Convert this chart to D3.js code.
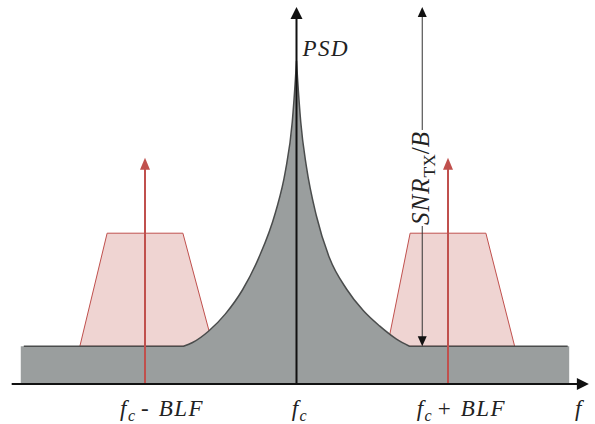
<!DOCTYPE html>
<html>
<head>
<meta charset="utf-8">
<script src="https://cdn.jsdelivr.net/npm/d3@7"></script>
<style>
  body { margin: 0; background: #fff; }
  svg { display: block; }
  text { font-family: "Liberation Serif", "DejaVu Serif", "Noto Serif", serif; }
</style>
</head>
<body>
<svg id="chart" width="595" height="424"></svg>
<script>
// frequency in units of BLF around the carrier fc, level in arbitrary PSD units
const axisFreq = [-1.88, 1.93];
const axisLevel = [0, 10];

const noiseFreq = [-1.82, 1.80];
const noiseEdge = [-1.80, 1.79];
const noiseFloor = 1;

const psdLeftFreq = [-0.746, -0.686, -0.581, -0.469, -0.356, -0.25, -0.139, -0.073, -0.028, -0.007, 0];
const psdLeftLevel = [1, 1.1, 1.4, 1.86, 2.5, 3.34, 4.55, 5.65, 6.95, 8.1, 8.57];
const psdRightFreq = [0, 0.007, 0.028, 0.066, 0.132, 0.218, 0.33, 0.442, 0.548, 0.66, 0.746];
const psdRightLevel = [8.57, 8.1, 6.95, 5.75, 4.45, 3.34, 2.52, 1.94, 1.54, 1.19, 1];

const bandBottom = [[-1.43, -0.55], [0.60, 1.44]];
const bandTop = [[-1.25, -0.75], [0.75, 1.25]];
const bandLevel = 4;

const toneFreq = [-1, 1];
const toneLevel = 6;

const snrFreq = 0.83;
const snrLevel = [1, 10];

// where each frequency label starts
const tickFreq = [-1.165, -0.032, 0.793, 1.838];
const tickText = [
  [["f", "it"], ["c", "sub"], ["-", "op"], ["BLF", "it"]],
  [["f", "it"], ["c", "sub"]],
  [["f", "it"], ["c", "sub"], ["+", "op"], ["BLF", "it"]],
  [["f", "it"]]
];

const cGrey = "#9a9e9e";
const cEdge = "#4a4c4c";
const cRed = "#c0504d";
const cPink = "#efd4d2";
const cInk = "#111";

let canvas = d3.select("#chart");

let x = d3.scaleLinear().domain([-2, 2]).range([296.5 - 303, 296.5 + 303]);
let y = d3.scaleLinear().domain([0, 10]).range([384, 7]);

function arrowHead(g, tx, ty, dir, len, half, color) {
    // dir: "up", "down", "right"
    let pts;
    if (dir == "up") pts = [[tx, ty], [tx - half, ty + len], [tx + half, ty + len]];
    else if (dir == "down") pts = [[tx, ty], [tx - half, ty - len], [tx + half, ty - len]];
    else pts = [[tx, ty], [tx - len, ty - half], [tx - len, ty + half]];
    g.append("path")
        .attr("d", "M" + pts.map(p => p.join(",")).join("L") + "Z")
        .attr("fill", color);
}

function richText(t, parts, size, spacing) {
    let shifted = 0;
    parts.forEach(p => {
        let s = t.append("tspan").text(p[0]);
        if (shifted) { s.attr("dy", -shifted); shifted = 0; }
        if (p[1] == "it") s.style("font-style", "italic").style("letter-spacing", spacing + "px");
        if (p[1] == "op") s.attr("dx", 6).style("letter-spacing", "10px");
        if (p[1] == "sub" || p[1] == "up") {
            shifted = size * 0.22;
            s.style("font-size", (size * 0.7) + "px").attr("dy", shifted);
            if (p[1] == "sub") s.style("font-style", "italic");
        }
    });
}

// sidebands
bandBottom.forEach((b, i) => {
    let pts = [[b[0], noiseFloor], [bandTop[i][0], bandLevel], [bandTop[i][1], bandLevel], [b[1], noiseFloor]];
    canvas.append("path")
        .attr("d", d3.line().x(d => x(d[0])).y(d => y(d[1]))(pts) + "Z")
        .attr("fill", cPink)
        .attr("stroke", cRed)
        .attr("stroke-width", 1);
});

// noise + carrier PSD
let half = d3.line().x(d => x(d[0])).y(d => y(d[1])).curve(d3.curveMonotoneX);
let leftPath = half(psdLeftFreq.map((f, i) => [f, psdLeftLevel[i]])).replace(/^M/, "L");
let rightPath = half(psdRightFreq.map((f, i) => [f, psdRightLevel[i]])).replace(/^M/, "L");

canvas.append("path")
    .attr("d", "M" + x(noiseFreq[0]) + "," + y(0) +
        "L" + x(noiseFreq[0]) + "," + y(noiseFloor) +
        leftPath + rightPath +
        "L" + x(noiseFreq[1]) + "," + y(noiseFloor) +
        "L" + x(noiseFreq[1]) + "," + y(0) + "Z")
    .attr("fill", cGrey);

canvas.append("path")
    .attr("d", "M" + x(noiseEdge[0]) + "," + y(noiseFloor) +
        leftPath + rightPath +
        "L" + x(noiseEdge[1]) + "," + y(noiseFloor))
    .attr("fill", "none")
    .attr("stroke", cEdge)
    .attr("stroke-width", 1.5);

// sideband tones
toneFreq.forEach(f => {
    canvas.append("line")
        .attr("x1", x(f)).attr("x2", x(f))
        .attr("y1", y(0)).attr("y2", y(toneLevel) + 10)
        .attr("stroke", cRed)
        .attr("stroke-width", 2);
    arrowHead(canvas, x(f), y(toneLevel), "up", 12, 5, cRed);
});

// axes
canvas.append("line")
    .attr("x1", x(axisFreq[0])).attr("x2", x(axisFreq[1]) - 8)
    .attr("y1", y(0)).attr("y2", y(0))
    .attr("stroke", cInk).attr("stroke-width", 2);
arrowHead(canvas, x(axisFreq[1]), y(0), "right", 12, 6, cInk);

canvas.append("line")
    .attr("x1", x(0)).attr("x2", x(0))
    .attr("y1", y(axisLevel[0])).attr("y2", y(axisLevel[1]) + 8)
    .attr("stroke", cInk).attr("stroke-width", 2);
arrowHead(canvas, x(0), y(axisLevel[1]), "up", 12, 6, cInk);

canvas.append("text")
    .attr("x", x(0) + 6).attr("y", 56)
    .style("font-size", "23px")
    .style("font-style", "italic")
    .style("letter-spacing", "1.5px")
    .attr("fill", "#222")
    .text("PSD");

// SNR_TX / B arrow
let snrX = x(snrFreq);
let snrMid = 178;
let snrLabel = canvas.append("text")
    .attr("transform", "translate(" + (snrX + 7) + "," + snrMid + ") rotate(-90)")
    .attr("text-anchor", "middle")
    .style("font-size", "25px")
    .attr("fill", "#222");
richText(snrLabel, [["SNR", "it"], ["TX", "up"], ["/", ""], ["B", "it"]], 25, 1);

let bb = snrLabel.node().getBBox();
let gapTop = snrMid - bb.width / 2 - 1;
let gapBottom = snrMid + bb.width / 2 + 1;
canvas.append("line")
    .attr("x1", snrX).attr("x2", snrX)
    .attr("y1", y(snrLevel[1]) + 6).attr("y2", gapTop)
    .attr("stroke", "#333").attr("stroke-width", 1);
canvas.append("line")
    .attr("x1", snrX).attr("x2", snrX)
    .attr("y1", gapBottom).attr("y2", y(snrLevel[0]) - 6)
    .attr("stroke", "#333").attr("stroke-width", 1);
arrowHead(canvas, snrX, y(snrLevel[1]), "up", 10, 4.5, "#111");
arrowHead(canvas, snrX, y(snrLevel[0]), "down", 10, 4.5, "#111");

// frequency labels
tickFreq.forEach((f, i) => {
    let t = canvas.append("text")
        .attr("x", x(f)).attr("y", y(0) + 32)
        .style("font-size", "23px")
        .attr("fill", "#222");
    richText(t, tickText[i], 23, 1.5);
});
</script>
</body>
</html>
